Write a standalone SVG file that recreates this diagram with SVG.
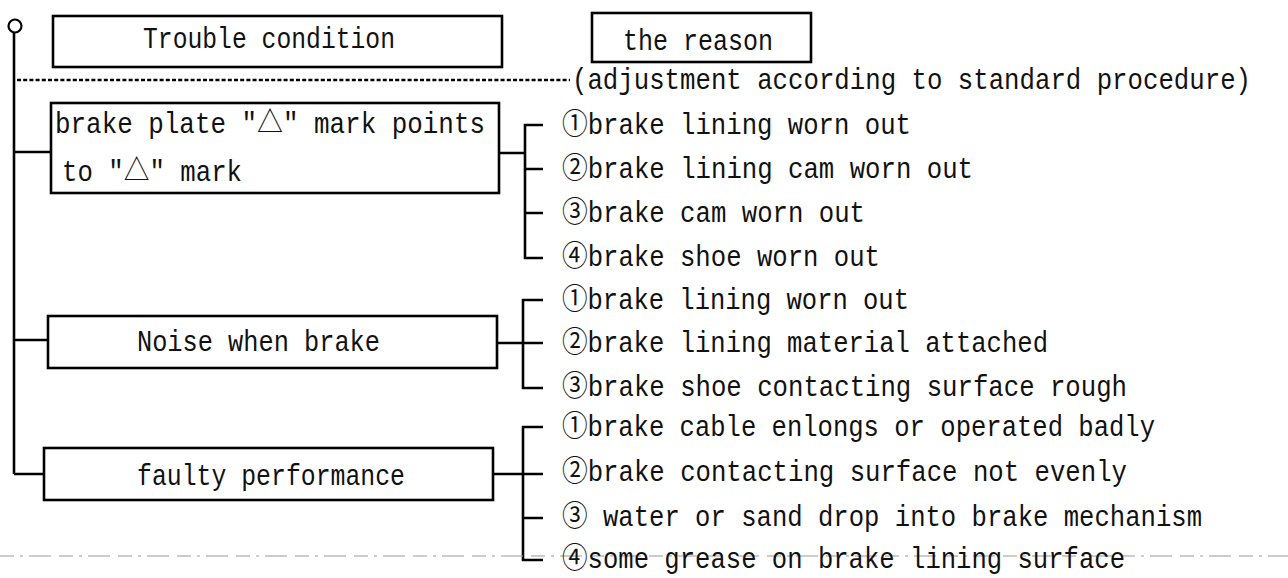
<svg xmlns="http://www.w3.org/2000/svg" width="1288" height="578" viewBox="0 0 1288 578">
<style>
.box{fill:#fff;stroke:#000;stroke-width:2.6}
.ln{fill:none;stroke:#000;stroke-width:2.6}
.dot{fill:none;stroke:#000;stroke-width:2.6;stroke-dasharray:4 2.2}
.scan{fill:none;stroke:#999;stroke-width:1;stroke-dasharray:14 6 3 6 22 8}
text{font-family:"Liberation Mono","Noto Sans CJK JP",monospace;font-size:29px;fill:#111}
</style>
<rect width="1288" height="578" fill="#fff"/>
<g id="connectors">
<circle cx="15" cy="26" r="6.5" class="ln" style="stroke-width:2.2"/>
<path class="ln" d="M14 33V474M14 152H51M14 340H48M14 474H44"/>
<path class="dot" d="M17 80H570"/>
<path class="ln" d="M499 153H525M543 125H525V258H543M525 169H543M525 213H543"/>
<path class="ln" d="M497 343H523M543 300H523V388H543M523 343H543"/>
<path class="ln" d="M493 474H523M543 427H523V560H543M523 474H543M523 518H543"/>
<path class="scan" d="M0 556H1288"/>
</g>
<g id="trouble"><rect class="box" x="53" y="16" width="449" height="51"/><text x="143" y="48" textLength="252" lengthAdjust="spacingAndGlyphs">Trouble condition</text></g>
<g id="reason"><rect class="box" x="592" y="13" width="219" height="49"/><text x="623" y="50" textLength="150" lengthAdjust="spacingAndGlyphs">the reason</text></g>
<g id="adjust"><text x="572" y="89" textLength="679" lengthAdjust="spacingAndGlyphs">(adjustment according to standard procedure)</text></g>
<g id="brakeplate"><rect class="box" x="51" y="103" width="448" height="90"/>
<text x="55" y="133" textLength="430" lengthAdjust="spacingAndGlyphs">brake plate "△" mark points</text>
<text x="62" y="181" textLength="180" lengthAdjust="spacingAndGlyphs">to "△" mark</text></g>
<g id="noise"><rect class="box" x="48" y="316" width="449" height="52"/><text x="137" y="351" textLength="243" lengthAdjust="spacingAndGlyphs">Noise when brake</text></g>
<g id="faulty"><rect class="box" x="44" y="448" width="449" height="52"/><text x="137" y="485" textLength="268" lengthAdjust="spacingAndGlyphs">faulty performance</text></g>
<g id="reasons1">
<text x="562" y="134" textLength="349" lengthAdjust="spacingAndGlyphs">①brake lining worn out</text>
<text x="562" y="178" textLength="411" lengthAdjust="spacingAndGlyphs">②brake lining cam worn out</text>
<text x="562" y="222" textLength="303" lengthAdjust="spacingAndGlyphs">③brake cam worn out</text>
<text x="562" y="266" textLength="318" lengthAdjust="spacingAndGlyphs">④brake shoe worn out</text>
</g>
<g id="reasons2">
<text x="562" y="309" textLength="347" lengthAdjust="spacingAndGlyphs">①brake lining worn out</text>
<text x="562" y="352" textLength="486" lengthAdjust="spacingAndGlyphs">②brake lining material attached</text>
<text x="562" y="396" textLength="565" lengthAdjust="spacingAndGlyphs">③brake shoe contacting surface rough</text>
</g>
<g id="reasons3">
<text x="562" y="436" textLength="593" lengthAdjust="spacingAndGlyphs">①brake cable enlongs or operated badly</text>
<text x="562" y="481" textLength="565" lengthAdjust="spacingAndGlyphs">②brake contacting surface not evenly</text>
<text x="562" y="526" textLength="640" lengthAdjust="spacingAndGlyphs">③ water or sand drop into brake mechanism</text>
<text x="562" y="568" textLength="563" lengthAdjust="spacingAndGlyphs">④some grease on brake lining surface</text>
</g>
</svg>
